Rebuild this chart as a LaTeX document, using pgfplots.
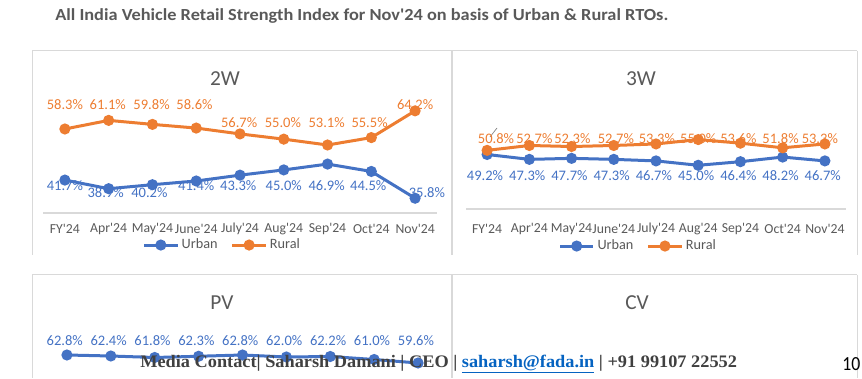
\documentclass[border=0pt]{standalone}
\usepackage{pgfplots}
\pgfplotsset{compat=1.18}
\usepackage{fontspec}
\usepackage{graphicx}
\setmainfont{Carlito}
\newfontfamily\footserif{Liberation Serif}
\definecolor{urb}{HTML}{4472C4}
\definecolor{rur}{HTML}{ED7D31}
\definecolor{txtgray}{HTML}{595959}
\definecolor{frame}{HTML}{D9D9D9}
\definecolor{foot}{HTML}{404040}
\definecolor{linkblue}{HTML}{0563C1}
\newcommand{\q}{\textquotesingle}

\pgfplotsset{
  legend image code/.code={\draw[mark repeat=2,mark phase=2,#1] plot coordinates {(0pt,0pt) (12.5pt,0pt) (25pt,0pt)};},
  panel/.style={
    scale only axis,
    xmin=-0.5, xmax=8.5,
    axis y line=none,
    axis x line=bottom,
    x axis line style={-, draw=frame, line width=0.9pt},
    xtick={0,...,8},
    xticklabels={FY\q24,Apr\q24,May\q24,June\q24,July\q24,Aug\q24,Sep\q24,Oct\q24,Nov\q24},
    major tick length=0pt,
    xticklabel style={font=\fontsize{10.3}{12}\selectfont, text=txtgray, anchor=center},
    clip=false,
    legend columns=2,
    legend style={draw=none, fill=none, font=\fontsize{10.7}{12}\selectfont, text=txtgray,
      /tikz/every even column/.append style={column sep=8pt}, anchor=center},
  },
  ser/.style={color=#1, line width=2.25pt, mark=*, mark size=3pt, mark options={solid}},
  lab/.style={draw=none, mark=none, forget plot,
    nodes near coords={\pgfmathprintnumber[assume math mode=true,fixed,precision=1,fixed zerofill]{\pgfplotspointmeta}\%},
    point meta=explicit,
    every node near coord/.append style={anchor=center, text=#1, font=\fontsize{10.9}{12}\selectfont, inner sep=0pt}},
}

\begin{document}
\begin{tikzpicture}
\useasboundingbox (0,0) rectangle (646.5pt,283.5pt);

\begin{scope}[x=0.75pt,y=0.75pt]
  % frames
  \draw[frame, line width=0.75pt] (32,327) -- (857,327);
  \draw[frame, line width=0.75pt] (32,327) -- (32,123);
  \draw[frame, line width=0.75pt] (857,327) -- (857,123);
  \draw[frame, line width=1.9pt] (452,327) -- (452,123);
  \draw[frame, line width=0.75pt] (32,103) -- (857,103);
  \draw[frame, line width=0.75pt] (32,103) -- (32,0);
  \draw[frame, line width=0.75pt] (857,103) -- (857,0);
  \draw[frame, line width=1.2pt] (452,103) -- (452,0);
  % main title
  \node[anchor=base west, inner sep=0pt, text=txtgray] at (55,357)
    {\resizebox{459.75pt}{\height}{\bfseries\fontsize{12.7}{15}\selectfont All India Vehicle Retail Strength Index for Nov\q24 on basis of Urban \& Rural RTOs.}};
  % panel titles
  \node[text=txtgray, font=\fontsize{16}{19}\selectfont] at (225,299) {2W};
  \node[text=txtgray, font=\fontsize{16}{19}\selectfont] at (641,299) {3W};
  \node[text=txtgray, font=\fontsize{16}{19}\selectfont] at (222,75) {PV};
  \node[text=txtgray, font=\fontsize{16}{19}\selectfont] at (637,75) {CV};
\end{scope}

% ---------------- 2W ----------------
\begin{axis}[panel, at={(32.25pt,123.75pt)}, anchor=south west,
  width=295.5pt, height=90pt, ymin=31, ymax=70,
  xticklabel style={yshift=-12pt},
  legend style={at={(0.456,-0.267)}}]
\addplot[ser=urb] table {
x y
0 41.7
1 38.9
2 40.2
3 41.4
4 43.3
5 45.0
6 46.9
7 44.5
8 35.8
};
\addlegendentry{Urban}
\addplot[ser=rur] table {
x y
0 58.3
1 61.1
2 59.8
3 58.6
4 56.7
5 55.0
6 53.1
7 55.5
8 64.2
};
\addlegendentry{Rural}
\addplot[lab=urb] table[x=x,y=y,meta=v] {
x y v
0 39.8 41.7
0.93 37.5 38.9
1.93 37.5 40.2
3 39.8 41.4
3.96 39.8 43.3
5 39.8 45.0
5.98 39.8 46.9
6.93 39.8 44.5
8.27 37.5 35.8
};
\addplot[lab=rur] table[x=x,y=y,meta=v] {
x y v
0 66.1 58.3
0.98 66.1 61.1
1.98 66.1 59.8
2.96 66.1 58.6
3.98 60.25 56.7
4.98 60.25 55.0
5.98 60.25 53.1
6.96 60.25 55.5
8 66.1 64.2
};
\end{axis}

% ---------------- 3W ----------------
\begin{axis}[panel, at={(349.5pt,126.75pt)}, anchor=south west,
  width=285pt, height=81pt, ymin=28, ymax=70,
  xticklabel style={yshift=-15pt},
  legend style={at={(0.454,-0.343)}}]
\addplot[ser=urb] table {
x y
0 49.2
1 47.3
2 47.7
3 47.3
4 46.7
5 45.0
6 46.4
7 48.2
8 46.7
};
\addlegendentry{Urban}
\addplot[ser=rur] table {
x y
0 50.8
1 52.7
2 52.3
3 52.7
4 53.3
5 55.0
6 53.6
7 51.8
8 53.3
};
\addlegendentry{Rural}
\addplot[lab=urb] table[x=x,y=y,meta=v] {
x y v
-0.05 40.8 49.2
0.95 40.8 47.3
1.95 40.8 47.7
2.95 40.8 47.3
3.95 40.8 46.7
4.95 40.8 45.0
5.95 40.8 46.4
6.95 40.8 48.2
7.95 40.8 46.7
};
\addplot[lab=rur] table[x=x,y=y,meta=v] {
x y v
0.21 55.2 50.8
1.12 55.2 52.7
2.02 55.2 52.3
3.05 55.2 52.7
4.02 55.2 53.3
5 55.2 55.0
5.95 55.2 53.6
6.95 55.2 51.8
7.88 55.2 53.3
};
\draw[gray, line width=0.5pt] (axis cs:0.068,56.0) -- (axis cs:0.234,59.5);
\end{axis}

% ---------------- PV ----------------
\begin{axis}[panel, at={(33.75pt,-44.25pt)}, anchor=south west,
  width=296.25pt, height=75pt, ymin=30, ymax=70, xticklabels={}]
\addplot[ser=urb] table {
x y
0 62.8
1 62.4
2 61.8
3 62.3
4 62.8
5 62.0
6 62.2
7 61.0
8 59.6
};
\addplot[lab=urb] table[x=x,y=y,meta=v] {
x y v
-0.05 68.4 62.8
0.95 68.4 62.4
1.95 68.4 61.8
2.95 68.4 62.3
3.95 68.4 62.8
4.95 68.4 62.0
5.95 68.4 62.2
6.95 68.4 61.0
7.95 68.4 59.6
};
\end{axis}

% ---------------- footer ----------------
\begin{scope}[x=0.75pt,y=0.75pt]
  \node[anchor=base west, inner sep=0pt, text=foot] at (140,11)
    {\resizebox{447.5pt}{\height}{\footserif\bfseries\fontsize{13.2}{15}\selectfont Media Contact| Saharsh Damani | CEO | \textcolor{linkblue}{\underline{saharsh@fada.in}} | +91 99107 22552}};
  \node[anchor=base west, inner sep=0pt, text=black] at (842,8)
    {\resizebox{13.5pt}{\height}{\fontsize{15}{18}\selectfont 10}};
\end{scope}
\end{tikzpicture}
\end{document}
